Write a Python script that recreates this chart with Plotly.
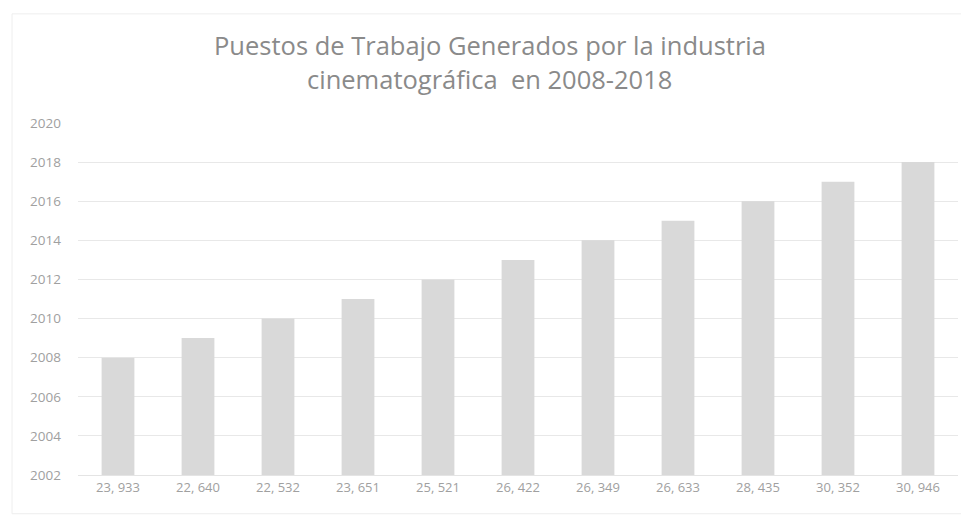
import plotly.graph_objects as go

categories = ["23, 933", "22, 640", "22, 532", "23, 651", "25, 521", "26, 422",
              "26, 349", "26, 633", "28, 435", "30, 352", "30, 946"]
years = [2008, 2009, 2010, 2011, 2012, 2013, 2014, 2015, 2016, 2017, 2018]
y_ticks = [2002, 2004, 2006, 2008, 2010, 2012, 2014, 2016, 2018, 2020]
title_lines = ["Puestos de Trabajo Generados por la industria",
               "cinematográfica  en 2008-2018"]

fig = go.Figure()
fig.add_trace(go.Bar(
    x=categories, y=years,
    marker=dict(color="#d9d9d9", line=dict(width=0)),
))

# page body has an 8px default margin, so the figure is sized to fit the window
fig.update_layout(
    width=961, height=509,
    paper_bgcolor="white", plot_bgcolor="white",
    margin=dict(l=70, r=11, t=115, b=42),
    bargap=0.59,
    showlegend=False,
    font=dict(family="Open Sans", color="#a0a0a0", size=11),
    annotations=[
        dict(text=title_lines[0], xref="paper", yref="paper", x=0.468, y=1.222,
             xanchor="center", yanchor="middle", showarrow=False,
             font=dict(family="Open Sans", size=25.5, color="#8a8a8a")),
        dict(text=title_lines[1], xref="paper", yref="paper", x=0.468, y=1.125,
             xanchor="center", yanchor="middle", showarrow=False,
             font=dict(family="Open Sans", size=25.5, color="#8a8a8a")),
    ],
    shapes=[dict(type="rect", xref="paper", yref="paper",
                 x0=-0.075, y0=-0.11, x1=1.009, y1=1.31,
                 line=dict(color="#eeeeee", width=1))],
)
fig.update_yaxes(range=[2002, 2020], tickvals=y_ticks, showgrid=True,
                 gridcolor="#e8e8e8", zeroline=False, showline=False,
                 ticks="", ticklen=0, ticklabelstandoff=16,
                 tickfont=dict(size=13.5, color="#a0a0a0"))
fig.update_xaxes(showgrid=False, showline=True, linecolor="#e4e4e4",
                 ticks="", tickfont=dict(size=13, color="#a0a0a0"))

fig.write_html("out.html")
